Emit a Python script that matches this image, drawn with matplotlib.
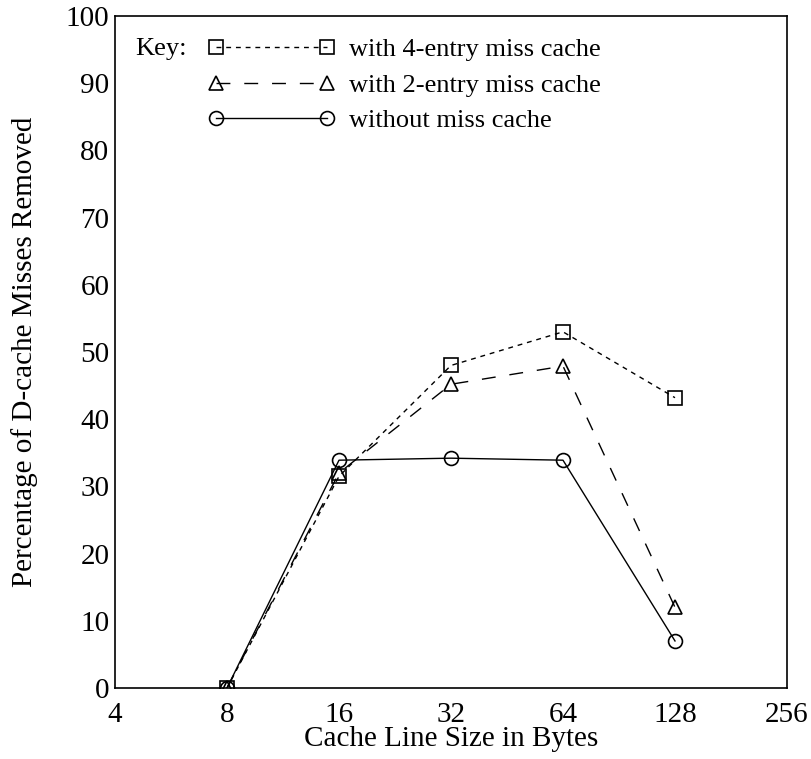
import matplotlib
matplotlib.use("Agg")
import matplotlib.pyplot as plt

line_sizes = [8, 16, 32, 64, 128]
four_entry = [0, 31.5, 48, 53, 43.2]
two_entry = [0, 32, 45.2, 47.9, 12]
without = [0, 33.9, 34.2, 33.9, 7]
x_ticks = [4, 8, 16, 32, 64, 128, 256]
y_ticks = [0, 10, 20, 30, 40, 50, 60, 70, 80, 90, 100]
labels = ["with 4-entry miss cache", "with 2-entry miss cache", "without miss cache"]

plt.rcParams['font.family'] = ['Liberation Serif', 'DejaVu Serif']

fig = plt.figure(figsize=(8.11, 7.59), dpi=100)
ax = fig.add_axes([115/811, 1-688/759, (787-115)/811, (688-16)/759])

common = dict(color='black', lw=1.0, fillstyle='none', markeredgewidth=1.2, markersize=10)
h1, = ax.plot(line_sizes, four_entry, marker='s', linestyle=(0, (3.5, 3.5)), label=labels[0], **common)
h2, = ax.plot(line_sizes, two_entry, marker='^', linestyle=(0, (10, 10)), label=labels[1], **common)
h3, = ax.plot(line_sizes, without, marker='o', linestyle='-', label=labels[2], **common)

ax.set_xscale('log', base=2)
ax.set_xlim(4, 256)
ax.set_ylim(0, 100)
ax.set_xticks(x_ticks)
ax.set_xticklabels([str(v) for v in x_ticks])
ax.minorticks_off()
ax.set_yticks(y_ticks)
ax.tick_params(length=0, labelsize=21)
ax.tick_params(axis='x', pad=10)
ax.tick_params(axis='y', pad=4)
ax.set_xlabel("Cache Line Size in Bytes", fontsize=21, labelpad=-1)
ax.set_ylabel("Percentage of D-cache Misses Removed", fontsize=21, labelpad=20)
for s in ax.spines.values():
    s.set_linewidth(1.2)

leg = ax.legend(handles=[h1, h2, h3], loc='upper left', bbox_to_anchor=(0.123, 0.983),
                frameon=False, numpoints=2, handlelength=4.8, fontsize=19,
                labelspacing=0.45, handletextpad=0.55, borderaxespad=0)
ax.text(0.03, 0.951, "Key:", transform=ax.transAxes, fontsize=19, va='center', ha='left')

fig.savefig("out.png", dpi=100)
